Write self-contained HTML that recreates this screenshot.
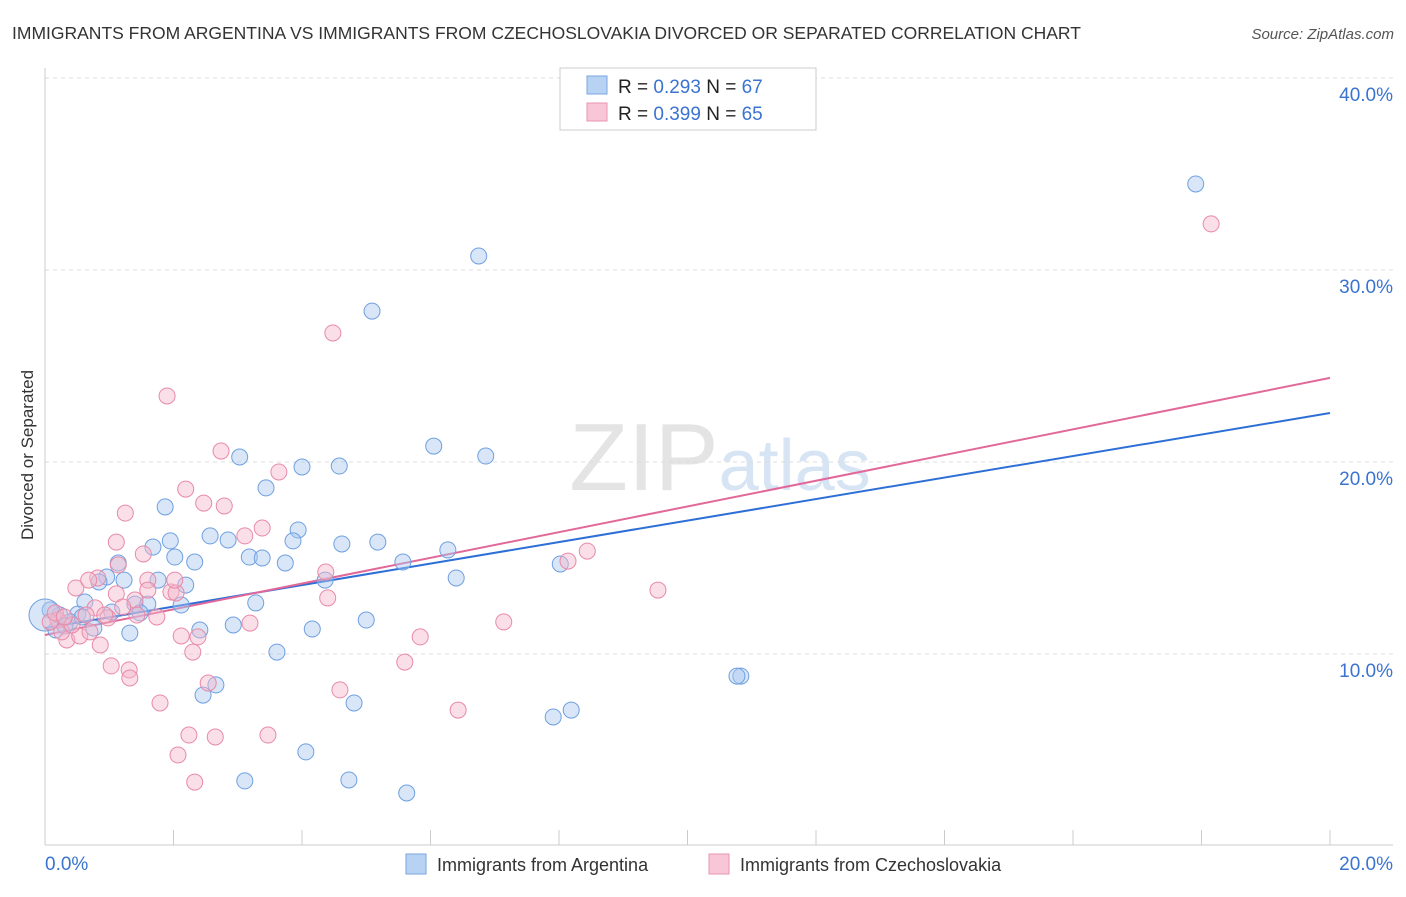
<!DOCTYPE html>
<html><head><meta charset="utf-8"><style>
body{margin:0;background:#fff;font-family:"Liberation Sans",sans-serif;}
svg text{font-family:"Liberation Sans",sans-serif;}
</style></head><body>
<svg id="chart" width="1406" height="892" viewBox="0 0 1406 892" xmlns="http://www.w3.org/2000/svg">
<text x="12" y="39" font-size="17.5" fill="#333">IMMIGRANTS FROM ARGENTINA VS IMMIGRANTS FROM CZECHOSLOVAKIA DIVORCED OR SEPARATED CORRELATION CHART</text>
<text x="1394" y="39" font-size="15" fill="#555" text-anchor="end" font-style="italic">Source: ZipAtlas.com</text>
<text x="720" y="490" font-size="96" fill="#e4e4e4" text-anchor="middle" font-family="Liberation Serif"><tspan>ZIP</tspan><tspan fill="#d6e4f4" font-family="Liberation Sans" font-size="72">atlas</tspan></text>
<text transform="translate(33,455) rotate(-90)" font-size="17" fill="#333" text-anchor="middle">Divorced or Separated</text>
<g id="grid"></g><g id="axes"></g><g id="lines"></g><g id="points"></g>
<g>
<rect x="560" y="68" width="256" height="62" fill="#fff" stroke="#ccc"/>
<rect x="587" y="76" width="20" height="18" fill="#b8d2f4" stroke="#7aa6e0"/>
<text x="618" y="93" font-size="19" fill="#222">R = <tspan fill="#3a74d0">0.293</tspan>   N = <tspan fill="#3a74d0">67</tspan></text>
<rect x="587" y="103" width="20" height="18" fill="#f8c6d6" stroke="#e894b0"/>
<text x="618" y="120" font-size="19" fill="#222">R = <tspan fill="#3a74d0">0.399</tspan>   N = <tspan fill="#3a74d0">65</tspan></text>
</g>
<g>
<rect x="406" y="854" width="20" height="20" fill="#b8d2f4" stroke="#7aa6e0"/>
<text x="437" y="871" font-size="18" fill="#333">Immigrants from Argentina</text>
<rect x="709" y="854" width="20" height="20" fill="#f8c6d6" stroke="#e894b0"/>
<text x="740" y="871" font-size="18" fill="#333">Immigrants from Czechoslovakia</text>
</g>
</svg>
<script>
const xTicks=[0,2,4,6,8,10,12,14,16,18,20];
const yTicks=[10,20,30,40];
const yTickLabels=["10.0%","20.0%","30.0%","40.0%"];
const xEndLabels=["0.0%","20.0%"];
const argX=[17.91,6.75,5.09,6.05,6.86,3.03,4.00,4.58,3.44,1.87,2.57,2.85,3.94,3.86,1.95,1.68,4.62,5.18,6.27,2.02,3.18,3.38,2.33,3.74,5.57,8.02,1.14,0.96,0.84,1.23,1.76,2.19,6.40,4.36,0.62,1.40,1.60,2.12,3.28,1.04,1.48,0.51,5.00,2.93,4.16,1.32,2.41,0.76,0.17,0.39,0.23,3.61,10.83,10.77,2.66,2.46,4.81,7.91,8.19,4.06,3.11,4.73,5.63,0.08,0.31,0.58,0.0];
const argY=[34.48,30.73,27.86,20.83,20.31,20.26,19.74,19.79,18.65,17.66,16.15,15.94,16.46,15.89,15.89,15.57,15.73,15.83,15.42,15.05,15.05,15.00,14.79,14.74,14.79,14.69,14.74,14.01,13.75,13.85,13.85,13.59,13.96,13.85,12.71,12.60,12.60,12.55,12.66,12.19,12.14,12.08,11.77,11.51,11.30,11.09,11.25,11.35,11.25,11.67,12.03,10.10,8.85,8.85,8.39,7.86,7.45,6.72,7.08,4.90,3.39,3.44,2.76,12.29,11.46,11.93,12.03];
const czX=[18.15,4.48,1.90,2.74,3.64,2.19,2.79,2.47,1.25,3.38,3.11,1.11,1.53,8.44,8.14,1.14,0.82,1.60,1.96,0.48,0.68,4.37,9.54,1.11,1.40,2.04,4.40,0.78,1.21,0.98,1.43,1.74,3.19,7.14,2.12,2.38,5.84,0.34,0.86,2.30,5.60,1.03,1.31,1.32,4.59,1.79,6.43,2.24,2.65,3.47,2.07,2.33,2.54,0.54,0.20,0.26,0.42,0.08,0.16,0.70,1.60,0.64,0.30,0.93,2.02];
const czY=[32.40,26.72,23.44,20.57,19.48,18.59,17.71,17.86,17.34,16.56,16.15,15.83,15.21,15.36,14.84,14.64,13.96,13.85,13.23,13.44,13.85,14.27,13.33,13.13,12.81,13.18,12.92,12.40,12.45,11.88,12.03,11.93,11.61,11.67,10.94,10.89,10.89,10.73,10.47,10.10,9.58,9.38,9.17,8.75,8.13,7.45,7.08,5.78,5.68,5.78,4.74,3.33,8.49,10.94,11.77,11.15,11.51,11.67,12.14,11.15,13.33,12.03,11.93,12.03,13.85];
const argTrend=[11.35,22.55];
const czTrend=[10.99,24.38];
const trendX=[0,20];
const NS="http://www.w3.org/2000/svg";
const X=v=>45+v/20*1285;
const Y=v=>846-v*19.2;
function mk(tag,parent,attrs){const e=document.createElementNS(NS,tag);for(const k in attrs)e.setAttribute(k,attrs[k]);document.getElementById(parent).appendChild(e);return e;}
yTicks.forEach((t,i)=>{
 const g=mk('line','grid',{x1:45,x2:1393,y1:Y(t),y2:Y(t),stroke:'#ddd','stroke-dasharray':'4,4'});
 
 
 const l=mk('text','axes',{x:1393,y:Y(t)+23,'font-size':19,fill:'#3a74d0','text-anchor':'end'});
 l.textContent=yTickLabels[i];
 
 
});
const ax=mk('line','axes',{x1:45,x2:1393,y1:845,y2:845,stroke:'#ccc'});


const ay=mk('line','axes',{x1:45,x2:45,y1:68,y2:845,stroke:'#ccc'});


xTicks.forEach(t=>{
 const e=mk('line','axes',{x1:X(t),x2:X(t),y1:830,y2:845,stroke:'#ccc'});
 
 
});
[[0,'start',45],[1,'end',1393]].forEach(([i,a,x])=>{
 const t=mk('text','axes',{x:x,y:870,'font-size':19,fill:'#3a74d0','text-anchor':a});
 t.textContent=xEndLabels[i];
 
 
});
function dots(xs,ys,fill,stroke,name){
 xs.forEach((x,i)=>{
  const r=(x===0)?16:8;
  const c=mk('circle','points',{cx:X(x),cy:Y(ys[i]),r:r,fill:fill,'fill-opacity':0.45,stroke:stroke,'stroke-width':1});
  
  
 });
}
dots(argX,argY,'#a8c8f0','#6fa0e0','argentina-point');
dots(czX,czY,'#f5b8cc','#e88aa8','czechoslovakia-point');
const l1=mk('line','lines',{x1:X(trendX[0]),y1:Y(argTrend[0]),x2:X(trendX[1]),y2:Y(argTrend[1]),stroke:'#2d6fd6','stroke-width':2});


const l2=mk('line','lines',{x1:X(trendX[0]),y1:Y(czTrend[0]),x2:X(trendX[1]),y2:Y(czTrend[1]),stroke:'#e2689a','stroke-width':2});


</script>
</body></html>
